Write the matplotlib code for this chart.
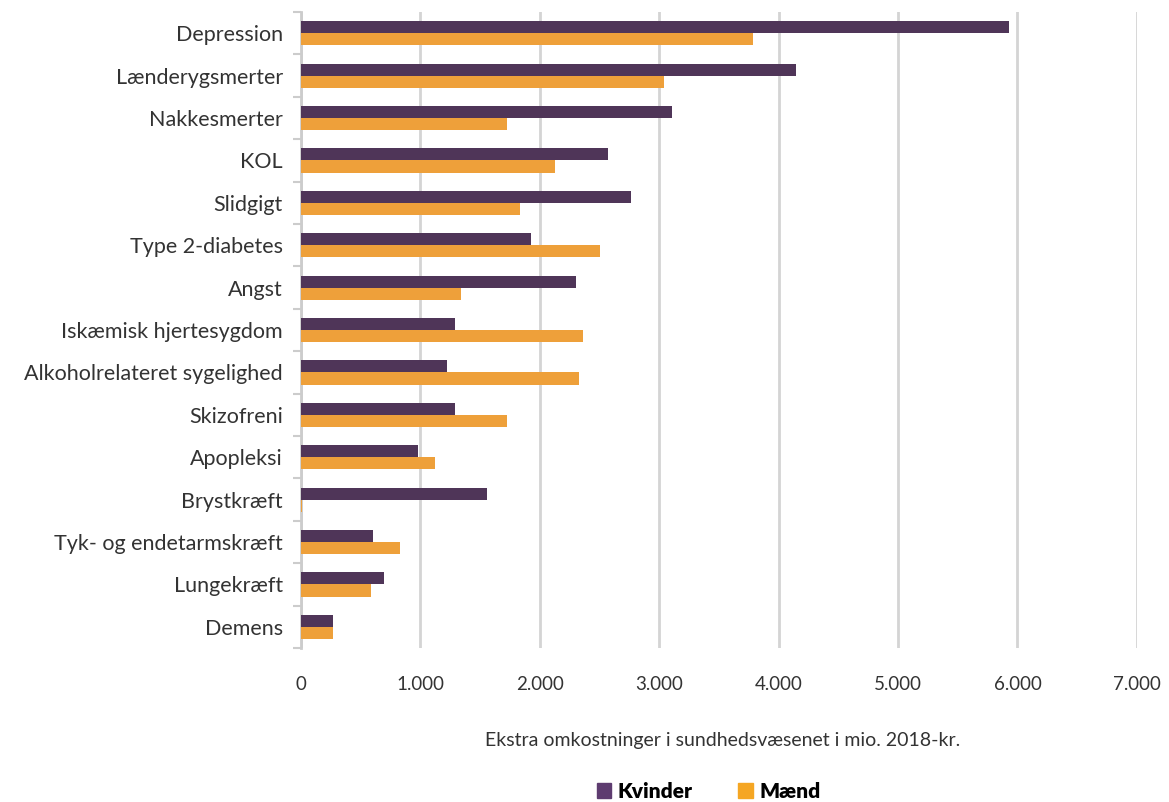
import numpy as np
import matplotlib.pyplot as plt
from matplotlib.ticker import FuncFormatter, FixedLocator

categories = ["Depression", "Lænderygsmerter", "Nakkesmerter", "KOL", "Slidgigt",
              "Type 2-diabetes", "Angst", "Iskæmisk hjertesygdom",
              "Alkoholrelateret sygelighed", "Skizofreni", "Apopleksi",
              "Brystkræft", "Tyk- og endetarmskræft", "Lungekræft", "Demens"]
kvinder = [5930, 4145, 3105, 2570, 2760, 1925, 2300, 1290, 1225, 1290, 980, 1555, 605, 695, 270]
maend = [3785, 3040, 1725, 2130, 1830, 2500, 1340, 2360, 2330, 1725, 1120, 10, 830, 590, 270]

plt.rcParams['font.family'] = ['Lato', 'DejaVu Sans']

purple = "#4F3558"
orange = "#EEA03A"

fig = plt.figure(figsize=(11.69, 8.02), dpi=100)
ax = fig.add_axes([0.2575, 0.192, 0.715, 0.793])

y = np.arange(len(categories))
h = 0.285
ax.barh(y - h / 2, kvinder, height=h, color=purple, label="Kvinder", zorder=3)
ax.barh(y + h / 2, maend, height=h, color=orange, label="Mænd", zorder=3)

ax.set_ylim(len(categories) - 0.5, -0.5)
ax.set_xlim(0, 7000)
ax.set_yticks(y)
ax.set_yticklabels(categories, fontsize=15.5, color="#333333")
ax.yaxis.set_minor_locator(FixedLocator(np.arange(-0.5, len(categories), 1)))
ax.tick_params(axis='y', which='major', length=0, pad=13)
ax.tick_params(axis='y', which='minor', length=6, width=1.5, color="#cccccc")

ax.set_xticks(np.arange(0, 7001, 1000))
ax.xaxis.set_major_formatter(FuncFormatter(lambda v, p: f"{int(v):,}".replace(",", ".")))
ax.tick_params(axis='x', length=0, labelsize=13.5, colors="#333333", pad=20)
ax.grid(axis='x', color="#d4d4d4", linewidth=2, zorder=0)

for s in ["top", "right", "bottom"]:
    ax.spines[s].set_visible(False)
ax.spines["left"].set_color("#cccccc")
ax.spines["left"].set_linewidth(2)

ax.set_xlabel("Ekstra omkostninger i sundhedsvæsenet i mio. 2018-kr.", fontsize=14,
              color="#333333", labelpad=28, x=0.505)

leg = fig.legend(loc="lower center", bbox_to_anchor=(0.606, -0.022), ncol=2, frameon=False,
                 handlelength=0.7, handleheight=0.7, handletextpad=0.3, columnspacing=2.2,
                 prop={'weight': 'heavy', 'size': 15})
leg.legend_handles[0].set_color("#5E3C70")
leg.legend_handles[1].set_color("#F5A623")

fig.savefig("out.png", dpi=100)
